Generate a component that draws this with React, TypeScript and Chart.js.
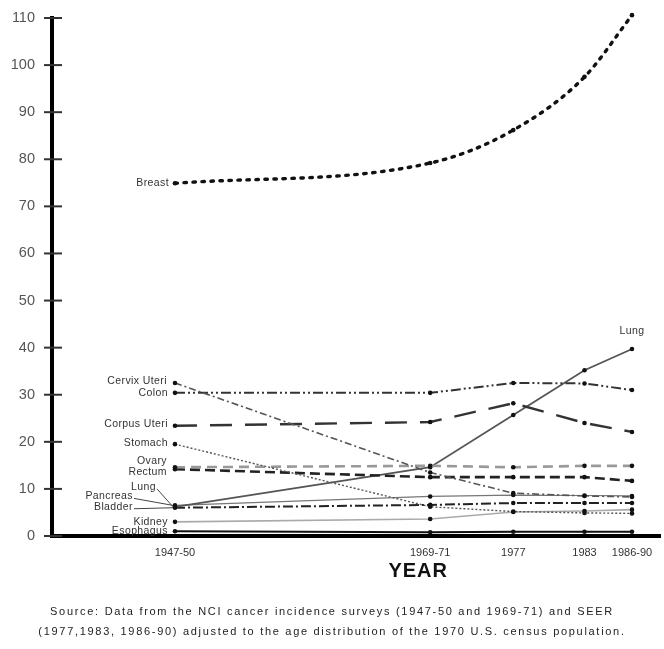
import React, { useEffect, useRef } from "react";
import { Chart, registerables } from "chart.js";

Chart.register(...registerables);

// ---- data ----
const YEARS = [1948.5, 1970, 1977, 1983, 1987];
const YEAR_LABELS = ["1947-50", "1969-71", "1977", "1983", "1986-90"];
const Y_TICKS_MAX = 110;

const breast = [74.9, 79.2, 86.2, 97.5, 110.6];
const cervixUteri = [32.5, 13.5, 9.1, 8.5, 8.3];
const colon = [30.4, 30.4, 32.5, 32.4, 31.0];
const corpusUteri = [23.4, 24.2, 28.2, 24.0, 22.1];
const stomach = [19.5, 6.2, 5.2, 4.9, 4.8];
const ovary = [14.6, 14.9, 14.6, 14.9, 14.9];
const rectum = [14.2, 12.5, 12.5, 12.5, 11.7];
const lung = [6.2, 14.6, 25.7, 35.2, 39.7];
const pancreas = [6.5, 8.4, 8.7, 8.6, 8.5];
const bladder = [6.0, 6.6, 7.0, 7.0, 7.0];
const kidney = [3.0, 3.6, 5.1, 5.3, 5.6];
const esophagus = [1.0, 0.8, 0.9, 0.9, 0.9];

const SERIES_NAMES = [
  "Breast", "Cervix Uteri", "Colon", "Corpus Uteri", "Stomach", "Ovary",
  "Rectum", "Lung", "Pancreas", "Bladder", "Kidney", "Esophagus",
];
const SERIES_VALUES = [
  breast, cervixUteri, colon, corpusUteri, stomach, ovary,
  rectum, lung, pancreas, bladder, kidney, esophagus,
];

const SOURCE_LINES = [
  "Source: Data from the NCI cancer incidence surveys (1947-50 and 1969-71) and SEER",
  "(1977,1983, 1986-90) adjusted to the age distribution of the 1970 U.S. census population.",
];

// ---- styles (not data) ----
const X_MIN = 1938.14;
const X_MAX = 1989.36;
const FONT = "'Liberation Sans', Arial, sans-serif";

const STYLES: any[] = [
  { color: "#111", width: 3.4, dash: [2.5, 6.5], cap: "round", tension: 0.35 },
  { color: "#555", width: 1.6, dash: [7, 3, 2, 3] },
  { color: "#333", width: 2, dash: [10, 3, 2, 3, 2, 3] },
  { color: "#333", width: 2.4, dash: [22, 13] },
  { color: "#555", width: 1.4, dash: [2, 2] },
  { color: "#999", width: 2.6, dash: [10, 6] },
  { color: "#222", width: 2.6, dash: [10, 5] },
  { color: "#555", width: 1.8, dash: [] },
  { color: "#777", width: 1.2, dash: [] },
  { color: "#222", width: 2, dash: [10, 3, 2, 3] },
  { color: "#aaa", width: 1.6, dash: [] },
  { color: "#111", width: 2, dash: [] },
];

// label placement relative to the first point (px)
const LABEL_POS: any[] = [
  { dx: -6, dy: 0 },
  { dx: -8, dy: -2 },
  { dx: -7, dy: 0 },
  { dx: -7, dy: -2 },
  { dx: -7, dy: -1 },
  { dx: -8, dy: -6 },
  { dx: -8, dy: 3 },
  { dx: -19, dy: -20, lead: true },
  { dx: -42, dy: -9, lead: true },
  { dx: -42, dy: -1, lead: true },
  { dx: -7, dy: 0 },
  { dx: -7, dy: 0 },
];

const annotate = {
  id: "annotate",
  afterDraw(chart: any) {
    const { ctx, chartArea, scales } = chart;
    const xs = scales.x;
    const ys = scales.y;
    ctx.save();
    // y tick marks crossing the axis
    ctx.strokeStyle = "#333";
    ctx.lineWidth = 2;
    ys.ticks.forEach((t: any) => {
      const y = ys.getPixelForValue(t.value);
      ctx.beginPath();
      ctx.moveTo(chartArea.left - 8, y);
      ctx.lineTo(chartArea.left + 10, y);
      ctx.stroke();
    });

    // series labels
    ctx.font = `10.5px ${FONT}`;
    (ctx as any).letterSpacing = "0.4px";
    ctx.fillStyle = "#333";
    ctx.textAlign = "right";
    ctx.textBaseline = "middle";
    SERIES_NAMES.forEach((name, i) => {
      const px = xs.getPixelForValue(YEARS[0]);
      const py = ys.getPixelForValue(SERIES_VALUES[i][0]);
      const p = LABEL_POS[i];
      const lx = px + p.dx;
      const ly = py + p.dy;
      ctx.fillText(name, lx, ly);
      if (p.lead) {
        ctx.strokeStyle = "#444";
        ctx.lineWidth = 1;
        ctx.beginPath();
        ctx.moveTo(lx + 1, ly + 2);
        ctx.lineTo(px - 2, py);
        ctx.stroke();
      }
    });

    // Lung label at the end
    const li = SERIES_NAMES.indexOf("Lung");
    const last = YEARS.length - 1;
    ctx.textAlign = "center";
    ctx.font = `10.5px ${FONT}`;
    ctx.fillText(
      SERIES_NAMES[li],
      xs.getPixelForValue(YEARS[last]),
      ys.getPixelForValue(SERIES_VALUES[li][last]) - 18
    );

    // axis title
    ctx.fillStyle = "#111";
    ctx.font = `bold 20px ${FONT}`;
    (ctx as any).letterSpacing = "1px";
    ctx.fillText("YEAR", xs.getPixelForValue(YEARS[1]) - 12, chartArea.bottom + 35);

    // source
    ctx.fillStyle = "#222";
    ctx.font = `11px ${FONT}`;
    (ctx as any).letterSpacing = "1.7px";
    SOURCE_LINES.forEach((s, i) => {
      ctx.fillText(s, chart.width / 2, chartArea.bottom + 76 + i * 20);
    });
    (ctx as any).letterSpacing = "0px";
    ctx.restore();
  },
};

export default function App() {
  const ref = useRef<HTMLCanvasElement | null>(null);
  useEffect(() => {
    if (!ref.current) return;
    const datasets = SERIES_NAMES.map((name, i) => {
      const s = STYLES[i];
      return {
        label: name,
        data: YEARS.map((x, j) => ({ x, y: SERIES_VALUES[i][j] })),
        borderColor: s.color,
        borderWidth: s.width,
        borderDash: s.dash,
        borderCapStyle: s.cap || "butt",
        tension: s.tension || 0,
        cubicInterpolationMode: s.tension ? "monotone" : "default",
        pointRadius: 2.3,
        pointBackgroundColor: "#111",
        pointBorderWidth: 0,
        fill: false,
        clip: false,
      };
    });
    const chart = new Chart(ref.current, {
      type: "line",
      data: { datasets } as any,
      options: {
        animation: false,
        responsive: false,
        layout: { padding: { top: 18, right: 0, left: 0, bottom: 0 } },
        plugins: { legend: { display: false }, tooltip: { enabled: false } },
        scales: {
          x: {
            type: "linear",
            min: X_MIN,
            max: X_MAX,
            afterBuildTicks: (s: any) => {
              s.ticks = YEARS.map((v) => ({ value: v }));
            },
            afterFit: (s: any) => {
              s.height = 649 - 536;
              s.paddingLeft = 0;
              s.paddingRight = 0;
            },
            grid: { display: false },
            border: { display: true, width: 4, color: "#000" },
            ticks: {
              autoSkip: false,
              maxRotation: 0,
              padding: 2,
              color: "#333",
              font: { family: FONT, size: 11 },
              callback: (_v: any, i: number) => YEAR_LABELS[i],
            },
          },
          y: {
            min: 0,
            max: Y_TICKS_MAX,
            afterFit: (s: any) => {
              s.width = 52;
              s.paddingTop = 0;
              s.paddingBottom = 0;
            },
            grid: { display: false },
            border: { display: true, width: 4, color: "#000" },
            ticks: {
              stepSize: 10,
              padding: 9,
              color: "#555",
              font: { family: FONT, size: 14.5 },
            },
          },
        },
      } as any,
      plugins: [annotate],
    });
    return () => chart.destroy();
  }, []);
  return (
    <div style={{ position: "absolute", left: 0, top: 0, width: 664, height: 649, background: "#fff" }}>
      <canvas ref={ref} width={664} height={649} />
    </div>
  );
}
